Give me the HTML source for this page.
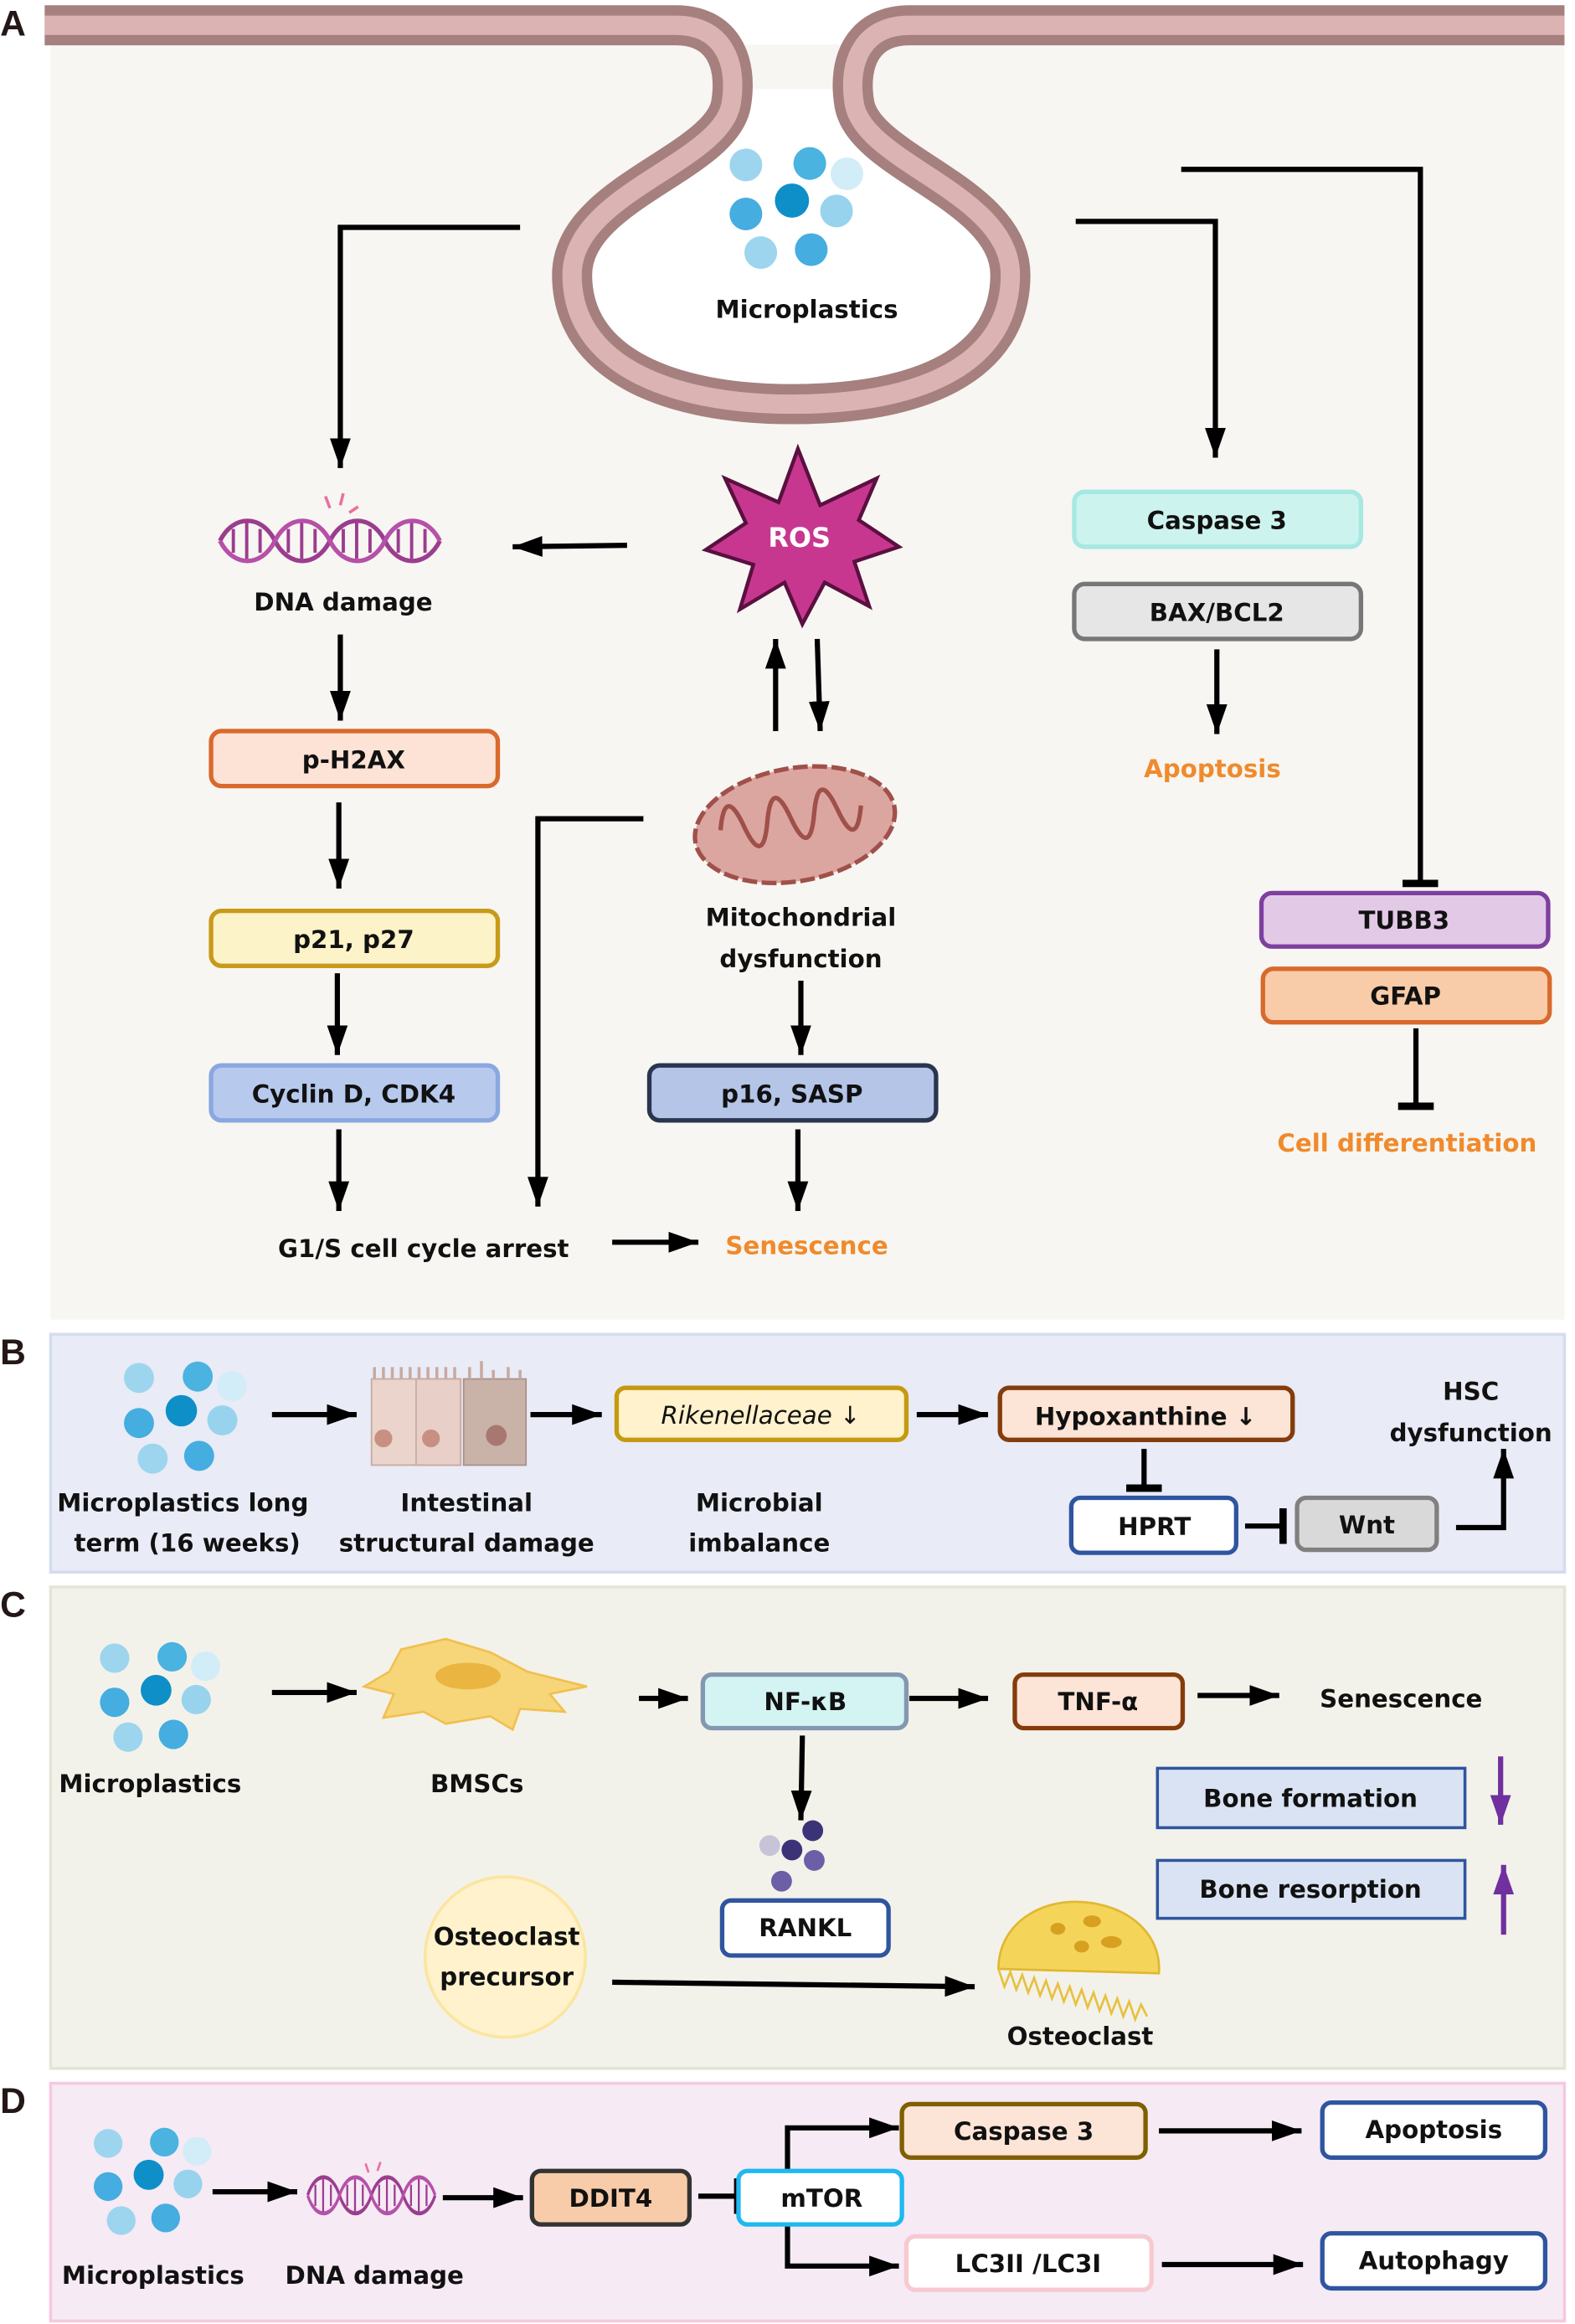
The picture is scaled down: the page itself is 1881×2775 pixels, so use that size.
<!DOCTYPE html>
<html><head><meta charset="utf-8"><style>
html,body{margin:0;padding:0;background:#fff}
svg{display:block}
text{font-family:"DejaVu Sans","Liberation Sans",sans-serif;font-weight:bold;font-size:16.5px;fill:#111;text-anchor:middle}
.o{fill:#f08a2c}
.L{font-family:"Liberation Sans",sans-serif;font-size:24px;text-anchor:start;fill:#231815}
</style></head><body>
<svg width="1881" height="2775" viewBox="0 0 1060 1564" xmlns="http://www.w3.org/2000/svg">
<defs>
<marker id="a" markerUnits="userSpaceOnUse" markerWidth="24" markerHeight="16" refX="20" refY="8" orient="auto"><path d="M0,1 L20,8 L0,15 Z" fill="#000"/></marker>
<marker id="t" markerUnits="userSpaceOnUse" markerWidth="6" markerHeight="24" refX="3" refY="12" orient="auto"><rect x="0" y="0" width="5" height="24" fill="#000"/></marker>
<marker id="p" markerUnits="userSpaceOnUse" markerWidth="24" markerHeight="16" refX="20" refY="8" orient="auto"><path d="M0,1 L20,8 L0,15 Z" fill="#7030a0"/></marker>
<g id="mp">
<circle cx="-31" cy="-29" r="11" fill="#9dd5ee"/><circle cx="12" cy="-30" r="11" fill="#4ab3e0"/><circle cx="37" cy="-23" r="11" fill="#d3edf8"/>
<circle cx="-31" cy="4" r="11" fill="#45ade0"/><circle cx="0" cy="-5" r="11.5" fill="#0e8fc8"/><circle cx="30" cy="2" r="11" fill="#98d3ee"/>
<circle cx="-21" cy="30" r="11" fill="#9dd5ee"/><circle cx="13" cy="28" r="11" fill="#45ade0"/>
</g>
<g id="dna" fill="none" stroke-width="3">
<path d="M0,16 C9,-2 28,-2 37,16 C46,34 65,34 74,16 C83,-2 102,-2 111,16 C120,34 139,34 148,16" stroke="#9b3d8f" transform="translate(0,0)"/>
<path d="M0,16 C9,34 28,34 37,16 C46,-2 65,-2 74,16 C83,34 102,34 111,16 C120,-2 139,-2 148,16" stroke="#b650a8"/>
<path d="M9,8V24M18,4V28M27,8V24M46,8V24M55,4V28M64,8V24M83,8V24M92,4V28M101,8V24M120,8V24M129,4V28M138,8V24" stroke="#9b3d8f" stroke-width="2.2"/>
</g>
</defs>
<rect x="34" y="30" width="1019" height="858" fill="#f7f6f2"/>
<rect x="34" y="898" width="1019" height="160" fill="#e9ebf6" stroke="#d6dcf0" stroke-width="2"/>
<rect x="34" y="1068" width="1019" height="324" fill="#f3f2ea" stroke="#e5e4da" stroke-width="2"/>
<rect x="34" y="1402" width="1019" height="160" fill="#f6eaf5" stroke="#f5c9e0" stroke-width="2"/>
<text class="L" x="0" y="24">A</text><text class="L" x="0" y="918">B</text><text class="L" x="0" y="1088">C</text><text class="L" x="0" y="1422">D</text>
<path d="M490,60 C470,100 390,140 390,190 C392,240 450,270 533,270 C620,270 676,240 676,190 C676,140 600,100 580,60 Z" fill="#fff"/>
<path d="M30,17 L455,17 C485,17 497,40 492,70 C485,110 385,130 385,185 C385,245 450,272 533,272 C620,272 680,245 680,185 C680,130 582,110 575,70 C570,40 582,17 612,17 L1053,17" fill="none" stroke="#a67f7f" stroke-width="27"/>
<path d="M30,17 L455,17 C485,17 497,40 492,70 C485,110 385,130 385,185 C385,245 450,272 533,272 C620,272 680,245 680,185 C680,130 582,110 575,70 C570,40 582,17 612,17 L1053,17" fill="none" stroke="#dbb3b3" stroke-width="13"/>
<use href="#mp" x="533" y="140"/>
<text x="543" y="214">Microplastics</text>
<g stroke="#000" stroke-width="3.5" fill="none">
<path d="M350,153H229V315" marker-end="url(#a)"/>
<path d="M422,367L345,368" marker-end="url(#a)"/>
<path d="M522,492V430" marker-end="url(#a)"/>
<path d="M550,430L552,492" marker-end="url(#a)"/>
<path d="M539,660V710" marker-end="url(#a)"/>
<path d="M537,760V815" marker-end="url(#a)"/>
<path d="M433,551H362V812" marker-end="url(#a)"/>
<path d="M412,836H470" marker-end="url(#a)"/>
<path d="M229,427V485" marker-end="url(#a)"/>
<path d="M228,540V598" marker-end="url(#a)"/>
<path d="M227,655V710" marker-end="url(#a)"/>
<path d="M228,760V815" marker-end="url(#a)"/>
<path d="M724,149H818V308" marker-end="url(#a)"/>
<path d="M819,437V494" marker-end="url(#a)"/>
<path d="M795,114H956V595" marker-end="url(#t)"/>
<path d="M953,692V745" marker-end="url(#t)"/>
</g>
<use href="#dna" x="148" y="348"/>
<path d="M222,342l-3,-8M229,340l2,-8M235,345l6,-4" stroke="#e870a0" stroke-width="2"/>
<text x="231" y="411">DNA damage</text>
<path d="M537,302 L552,340 L590,322 L578,350 L605,368 L575,378 L585,408 L555,392 L540,420 L528,392 L498,410 L507,380 L475,370 L502,352 L488,322 L524,338 Z" fill="#c8378f" stroke="#5a1040" stroke-width="2.5"/>
<text x="538" y="368" style="fill:#fff;font-size:18px">ROS</text>
<g transform="translate(535,555) rotate(-10)">
<ellipse cx="0" cy="0" rx="68" ry="38" fill="#dca6a0" stroke="#a0504a" stroke-width="3" stroke-dasharray="10 3"/>
<path d="M-50,-5 q8,-30 16,0 q8,30 16,0 q8,-30 16,0 q8,30 16,0 q8,-30 16,0 q8,30 16,0" fill="none" stroke="#a0504a" stroke-width="3"/>
</g>
<text x="539" y="623">Mitochondrial</text><text x="539" y="651">dysfunction</text>
<g stroke-width="3">
<rect x="142" y="492" width="193" height="37" rx="7" fill="#fce3d6" stroke="#d9692c"/>
<rect x="142" y="613" width="193" height="37" rx="7" fill="#fdf3c8" stroke="#c79a1a"/>
<rect x="142" y="717" width="193" height="37" rx="7" fill="#b8c9ee" stroke="#8aa8e0"/>
<rect x="437" y="717" width="193" height="37" rx="7" fill="#b4c5e8" stroke="#2a3550"/>
<rect x="723" y="331" width="193" height="37" rx="7" fill="#cdf3ee" stroke="#a6e8e2"/>
<rect x="723" y="393" width="193" height="37" rx="7" fill="#e6e6e6" stroke="#777"/>
<rect x="849" y="601" width="193" height="36" rx="7" fill="#e2c9e6" stroke="#7e3fa0"/>
<rect x="850" y="652" width="193" height="36" rx="7" fill="#f8cca8" stroke="#d9692c"/>
</g>
<text x="238" y="517">p-H2AX</text><text x="238" y="638">p21, p27</text><text x="238" y="742">Cyclin D, CDK4</text>
<text x="533" y="742">p16, SASP</text><text x="819" y="356">Caspase 3</text><text x="819" y="418">BAX/BCL2</text>
<text x="945" y="625">TUBB3</text><text x="946" y="676">GFAP</text>
<text class="o" x="816" y="523">Apoptosis</text><text class="o" x="947" y="775">Cell differentiation</text>
<text x="285" y="846">G1/S cell cycle arrest</text><text class="o" x="543" y="844">Senescence</text>
<use href="#mp" transform="translate(122,954) scale(0.92)"/>
<g transform="translate(250,920)">
<rect x="0" y="8" width="60" height="58" fill="#ead4cc" stroke="#c8aaa0"/><rect x="30" y="8" width="30" height="58" fill="#e8d0c8" stroke="#c8aaa0"/>
<rect x="62" y="8" width="42" height="58" fill="#c9b2a8" stroke="#a89088"/>
<circle cx="8" cy="48" r="6" fill="#c89080"/><circle cx="40" cy="48" r="6" fill="#c89080"/><circle cx="84" cy="46" r="7" fill="#a87870"/>
<path d="M2,8V0M8,8V0M14,8V0M20,8V0M26,8V0M32,8V0M38,8V0M44,8V0M50,8V0M56,8V0M66,8V0M74,8V-4M82,8V2M92,8V0M100,8V2" stroke="#c8aaa0" stroke-width="2"/>
</g>
<g stroke="#000" stroke-width="3.5" fill="none">
<path d="M183,952H240" marker-end="url(#a)"/><path d="M357,952H405" marker-end="url(#a)"/>
<path d="M617,952H665" marker-end="url(#a)"/>
<path d="M770,975V1002" marker-end="url(#t)"/><path d="M838,1027H864" marker-end="url(#t)"/>
<path d="M980,1028H1012V975" marker-end="url(#a)"/>
</g>
<g stroke-width="3">
<rect x="415" y="934" width="195" height="35" rx="6" fill="#fff2cc" stroke="#c49a10"/>
<rect x="673" y="934" width="197" height="35" rx="6" fill="#fce4d6" stroke="#843c0c"/>
<rect x="721" y="1008" width="111" height="37" rx="6" fill="#fff" stroke="#2f55a0"/>
<rect x="873" y="1008" width="94" height="35" rx="6" fill="#d9d9d9" stroke="#808080"/>
</g>
<text x="512" y="958" style="font-style:italic;font-weight:normal">Rikenellaceae ↓</text>
<text x="771" y="959">Hypoxanthine ↓</text><text x="777" y="1033">HPRT</text><text x="920" y="1032">Wnt</text>
<text x="990" y="942">HSC</text><text x="990" y="970">dysfunction</text>
<text x="123" y="1017">Microplastics long</text><text x="126" y="1044">term (16 weeks)</text>
<text x="314" y="1017">Intestinal</text><text x="314" y="1044">structural damage</text>
<text x="511" y="1017">Microbial</text><text x="511" y="1044">imbalance</text>
<use href="#mp" transform="translate(105,1142) scale(0.9)"/>
<text x="101" y="1206">Microplastics</text>
<path d="M270,1110 L300,1103 L330,1112 L355,1125 L395,1135 L370,1140 L380,1152 L350,1150 L345,1164 L330,1155 L300,1160 L285,1152 L258,1156 L265,1140 L245,1135 L262,1125 Z" fill="#f7d67a" stroke="#f0c050" stroke-width="1.5"/>
<ellipse cx="315" cy="1128" rx="22" ry="9" fill="#eab540"/>
<text x="321" y="1206">BMSCs</text>
<g stroke="#000" stroke-width="3.5" fill="none">
<path d="M183,1139H240" marker-end="url(#a)"/><path d="M430,1143H463" marker-end="url(#a)"/>
<path d="M612,1143H665" marker-end="url(#a)"/><path d="M806,1141H861" marker-end="url(#a)"/>
<path d="M540,1168L539,1225" marker-end="url(#a)"/><path d="M412,1334L656,1337" marker-end="url(#a)"/>
</g>
<g stroke-width="3">
<rect x="473" y="1127" width="137" height="36" rx="6" fill="#d4f3f3" stroke="#8497b0"/>
<rect x="683" y="1127" width="113" height="36" rx="6" fill="#fce4d6" stroke="#843c0c"/>
<rect x="486" y="1279" width="112" height="37" rx="6" fill="#fff" stroke="#2f55a0"/>
</g>
<rect x="779" y="1190" width="207" height="40" fill="#dae3f3" stroke="#2f55a0" stroke-width="2"/>
<rect x="779" y="1252" width="207" height="39" fill="#dae3f3" stroke="#2f55a0" stroke-width="2"/>
<text x="542" y="1151">NF-κB</text><text x="739" y="1151">TNF-α</text><text x="943" y="1149">Senescence</text>
<text x="542" y="1303">RANKL</text><text x="882" y="1216">Bone formation</text><text x="882" y="1277">Bone resorption</text>
<path d="M1010,1182V1228" stroke="#7030a0" stroke-width="3.5" marker-end="url(#p)"/>
<path d="M1012,1302V1255" stroke="#7030a0" stroke-width="3.5" marker-end="url(#p)"/>
<circle cx="547" cy="1232" r="7" fill="#3b3278"/><circle cx="518" cy="1242" r="7" fill="#c8c4d8"/><circle cx="533" cy="1245" r="7" fill="#3b3278"/><circle cx="548" cy="1252" r="7" fill="#6d5ea8"/><circle cx="526" cy="1266" r="7" fill="#6d5ea8"/>
<circle cx="340" cy="1317" r="54" fill="#fff2cc" stroke="#fbe5a0" stroke-width="2"/>
<text x="341" y="1309">Osteoclast</text><text x="341" y="1336">precursor</text>
<path d="M672,1325 C672,1295 700,1278 728,1280 C760,1282 782,1302 780,1328 Z" fill="#f5d45a" stroke="#e0b830" stroke-width="1.5"/>
<path d="M672,1325 l4,12 4,-10 4,12 4,-10 4,12 4,-10 4,12 4,-10 4,12 4,-10 4,12 4,-10 4,12 4,-10 4,12 4,-10 4,12 4,-10 4,12 4,-10 4,12 4,-10 4,12 4,-10 4,8" fill="none" stroke="#e8c040" stroke-width="1.5"/>
<ellipse cx="712" cy="1298" rx="5" ry="4" fill="#d8a020"/><ellipse cx="735" cy="1293" rx="6" ry="4" fill="#d8a020"/><ellipse cx="748" cy="1307" rx="7" ry="4" fill="#d8a020"/><ellipse cx="728" cy="1310" rx="5" ry="4" fill="#d8a020"/>
<text x="727" y="1376">Osteoclast</text>
<use href="#mp" transform="translate(100,1468) scale(0.88)"/>
<text x="103" y="1537">Microplastics</text>
<use href="#dna" transform="translate(207,1463) scale(0.58,0.9)"/>
<path d="M248,1462l-2,-6M254,1461l2,-6" stroke="#e870a0" stroke-width="1.5"/>
<text x="252" y="1537">DNA damage</text>
<g stroke="#000" stroke-width="3.5" fill="none">
<path d="M143,1475H200" marker-end="url(#a)"/><path d="M298,1479H352" marker-end="url(#a)"/>
<path d="M470,1478H497" marker-end="url(#t)"/>
<path d="M530,1461V1432H605" marker-end="url(#a)"/><path d="M530,1497V1525H605" marker-end="url(#a)"/>
<path d="M780,1434H876" marker-end="url(#a)"/><path d="M782,1524H877" marker-end="url(#a)"/>
</g>
<g stroke-width="3">
<rect x="358" y="1461" width="106" height="36" rx="6" fill="#f8cca8" stroke="#333"/>
<rect x="497" y="1461" width="110" height="36" rx="6" fill="#fff" stroke="#1fb8f0"/>
<rect x="607" y="1416" width="164" height="36" rx="6" fill="#fce4d6" stroke="#7f6000"/>
<rect x="890" y="1415" width="150" height="37" rx="6" fill="#fff" stroke="#2f55a0"/>
<rect x="610" y="1505" width="165" height="36" rx="6" fill="#fff" stroke="#f7c9d0"/>
<rect x="890" y="1503" width="150" height="37" rx="6" fill="#fff" stroke="#2f55a0"/>
</g>
<text x="411" y="1485">DDIT4</text><text x="553" y="1485">mTOR</text><text x="689" y="1440">Caspase 3</text>
<text x="965" y="1439">Apoptosis</text><text x="692" y="1529">LC3II /LC3I</text><text x="965" y="1527">Autophagy</text>
</svg>
</body></html>
